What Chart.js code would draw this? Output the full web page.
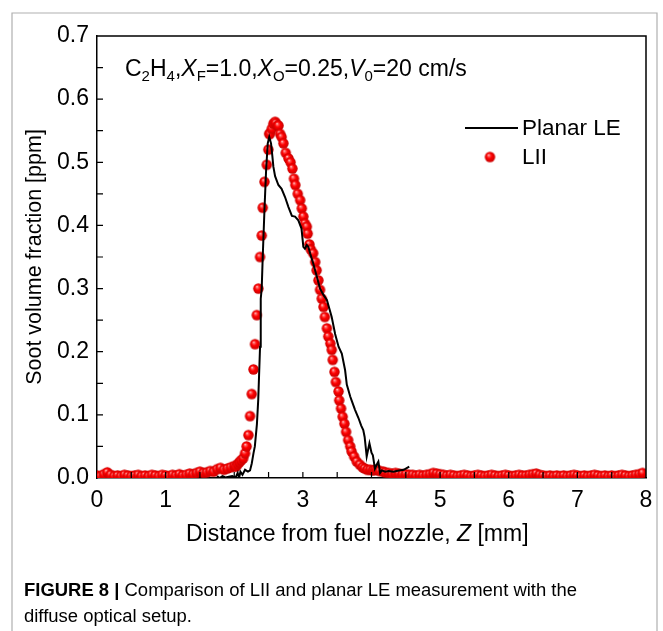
<!DOCTYPE html>
<html><head><meta charset="utf-8">
<script src="https://cdn.jsdelivr.net/npm/chart.js@4.4.1/dist/chart.umd.min.js"></script>
<style>html,body{margin:0;padding:0;background:#fff}#wrap{position:relative;width:663px;height:631px}</style>
</head><body><div id="wrap"><canvas id="c" width="663" height="631"></canvas></div>
<script>
// ---- tick labels ----
const xTickValues = [0, 1, 2, 3, 4, 5, 6, 7, 8];
const yTickLabels = ['0.0', '0.1', '0.2', '0.3', '0.4', '0.5', '0.6', '0.7'];

// ---- Planar LE (black line) ----
const leZ = [1.75, 1.78, 1.80, 1.83, 1.87, 1.92, 1.97, 2.02, 2.05, 2.07, 2.09, 2.12, 2.157, 2.20, 2.23, 2.255, 2.28, 2.30, 2.33, 2.35, 2.376, 2.386, 2.40, 2.415, 2.44, 2.464, 2.488, 2.51, 2.536, 2.555, 2.57, 2.595, 2.643, 2.69, 2.74, 2.79, 2.84, 2.886, 2.934, 2.98, 3.007, 3.03, 3.057, 3.08, 3.105, 3.15, 3.178, 3.25, 3.30, 3.35, 3.42, 3.47, 3.52, 3.567, 3.615, 3.64, 3.69, 3.71, 3.76, 3.81, 3.85, 3.88, 3.90, 3.93, 3.97, 4.00, 4.02, 4.05, 4.085, 4.10, 4.125, 4.15, 4.20, 4.25, 4.32, 4.40, 4.47, 4.55];
const leF = [0.003, 0.000, 0.001, 0.003, 0.001, 0.002, 0.003, 0.001, 0.008, 0.000, 0.010, 0.005, 0.013, 0.010, 0.012, 0.023, 0.039, 0.050, 0.085, 0.125, 0.208, 0.284, 0.300, 0.350, 0.424, 0.487, 0.530, 0.540, 0.530, 0.510, 0.493, 0.478, 0.464, 0.458, 0.445, 0.429, 0.415, 0.414, 0.408, 0.395, 0.366, 0.363, 0.369, 0.366, 0.356, 0.340, 0.329, 0.300, 0.290, 0.282, 0.255, 0.228, 0.208, 0.197, 0.171, 0.148, 0.129, 0.123, 0.108, 0.095, 0.083, 0.076, 0.065, 0.034, 0.055, 0.040, 0.036, 0.015, 0.023, 0.026, 0.008, 0.012, 0.010, 0.011, 0.010, 0.012, 0.013, 0.018];

// ---- LII (red spheres) ----
const liiZ = [0.00, 0.05, 0.10, 0.15, 0.20, 0.25, 0.30, 0.35, 0.40, 0.45, 0.50, 0.55, 0.60, 0.65, 0.70, 0.75, 0.80, 0.85, 0.90, 0.95,
  1.00, 1.05, 1.10, 1.15, 1.20, 1.25, 1.30, 1.35, 1.40, 1.45, 1.50, 1.55, 1.60, 1.65, 1.70, 1.75, 1.80, 1.85, 1.90, 1.95,
  2.00, 2.025, 2.05, 2.075, 2.10, 2.13, 2.157, 2.18, 2.206, 2.23, 2.255, 2.28, 2.303, 2.328, 2.351, 2.376, 2.40, 2.415, 2.44, 2.474,
  2.497, 2.51, 2.52, 2.546, 2.57, 2.595, 2.605, 2.634, 2.643, 2.668, 2.69, 2.716, 2.75, 2.79, 2.82, 2.847, 2.87, 2.89, 2.925, 2.96,
  2.984, 3.007, 3.03, 3.057, 3.07, 3.095, 3.115, 3.15, 3.18, 3.20, 3.226, 3.25, 3.275, 3.30, 3.32, 3.35, 3.37, 3.40, 3.42, 3.435,
  3.46, 3.48, 3.52, 3.53, 3.556, 3.58, 3.605, 3.63, 3.66, 3.69, 3.71, 3.746, 3.785, 3.83, 3.87, 3.90, 3.94, 3.98, 4.02, 4.05,
  4.08, 4.12, 4.17, 4.20, 4.25, 4.30, 4.35, 4.40, 4.45, 4.50, 4.55, 4.60, 4.65, 4.70, 4.75, 4.80, 4.85, 4.90, 4.95, 5.00,
  5.05, 5.10, 5.15, 5.20, 5.25, 5.30, 5.35, 5.40, 5.45, 5.50, 5.55, 5.60, 5.65, 5.70, 5.75, 5.80, 5.85, 5.90, 5.95, 6.00,
  6.05, 6.10, 6.15, 6.20, 6.25, 6.30, 6.35, 6.40, 6.45, 6.50, 6.55, 6.60, 6.65, 6.70, 6.75, 6.80, 6.85, 6.90, 6.95, 7.00,
  7.05, 7.10, 7.15, 7.20, 7.25, 7.30, 7.35, 7.40, 7.45, 7.50, 7.55, 7.60, 7.65, 7.70, 7.75, 7.80, 7.85, 7.90, 7.95];
const liiF = [0.004, 0.003, 0.006, 0.009, 0.005, 0.003, 0.004, 0.003, 0.005, 0.004, 0.003, 0.004, 0.005, 0.003, 0.004, 0.003, 0.005, 0.004, 0.003, 0.005,
  0.004, 0.003, 0.005, 0.004, 0.006, 0.004, 0.005, 0.007, 0.006, 0.008, 0.010, 0.008, 0.009, 0.011, 0.010, 0.014, 0.016, 0.013, 0.015, 0.017,
  0.019, 0.018, 0.022, 0.025, 0.028, 0.031, 0.039, 0.050, 0.068, 0.098, 0.133, 0.172, 0.212, 0.258, 0.300, 0.350, 0.384, 0.428, 0.469, 0.496,
  0.520, 0.545, 0.545, 0.553, 0.561, 0.564, 0.562, 0.558, 0.558, 0.545, 0.540, 0.530, 0.515, 0.506, 0.500, 0.490, 0.474, 0.464, 0.450, 0.440,
  0.427, 0.414, 0.403, 0.398, 0.387, 0.370, 0.362, 0.356, 0.342, 0.329, 0.313, 0.298, 0.284, 0.271, 0.255, 0.237, 0.224, 0.213, 0.203, 0.187,
  0.168, 0.152, 0.137, 0.123, 0.110, 0.097, 0.086, 0.073, 0.060, 0.050, 0.042, 0.034, 0.026, 0.021, 0.017, 0.015, 0.013, 0.013, 0.012, 0.013,
  0.013, 0.011, 0.010, 0.009, 0.008, 0.007, 0.008, 0.007, 0.006, 0.006, 0.005, 0.005, 0.004, 0.005, 0.004, 0.005, 0.006, 0.008, 0.007, 0.006,
  0.005, 0.004, 0.005, 0.004, 0.003, 0.004, 0.005, 0.004, 0.003, 0.004, 0.005, 0.004, 0.003, 0.004, 0.005, 0.004, 0.003, 0.004, 0.005, 0.004,
  0.003, 0.004, 0.005, 0.004, 0.004, 0.005, 0.006, 0.007, 0.005, 0.004, 0.003, 0.004, 0.003, 0.004, 0.003, 0.004, 0.003, 0.004, 0.005, 0.004,
  0.003, 0.004, 0.003, 0.004, 0.005, 0.004, 0.003, 0.004, 0.003, 0.004, 0.003, 0.004, 0.005, 0.004, 0.003, 0.004, 0.005, 0.006, 0.008];

const FONT = "'Liberation Sans', Arial, sans-serif";

function makeSphere(r) {
  const s = Math.ceil(2 * r + 2);
  const cv = document.createElement('canvas');
  cv.width = s; cv.height = s;
  const g = cv.getContext('2d');
  const c = s / 2;
  const grad = g.createRadialGradient(c - r * 0.3, c - r * 0.4, 0, c, c, r);
  grad.addColorStop(0, '#fff0f0');
  grad.addColorStop(0.2, '#ff6060');
  grad.addColorStop(0.5, '#ff0000');
  grad.addColorStop(1, '#c80000');
  g.fillStyle = grad;
  g.beginPath(); g.arc(c, c, r, 0, Math.PI * 2); g.fill();
  return cv;
}
const sphere = makeSphere(5.2);

function drawRich(ctx, x, y, segs) {
  let cx = x;
  for (const s of segs) {
    let size = 23, dy = 0, style = '';
    if (s.k === 'sub') { size = 15; dy = 5; }
    if (s.k === 'i') style = 'italic ';
    ctx.font = style + size + 'px ' + FONT;
    ctx.fillText(s.t, cx, y + dy);
    cx += ctx.measureText(s.t).width;
  }
  return cx;
}

const decor = {
  id: 'decor',
  beforeDraw(chart) {
    const ctx = chart.ctx;
    ctx.save();
    ctx.fillStyle = '#fff';
    ctx.fillRect(0, 0, chart.width, chart.height);
    ctx.strokeStyle = '#b0b0b0';
    ctx.lineWidth = 1.2;
    ctx.beginPath();
    ctx.moveTo(12, 640); ctx.lineTo(12, 13); ctx.lineTo(657, 13); ctx.lineTo(657, 640);
    ctx.stroke();
    ctx.restore();
  },
  afterDraw(chart) {
    const ctx = chart.ctx;
    const a = chart.chartArea;
    const xs = chart.scales.x, ys = chart.scales.y;
    ctx.save();
    ctx.strokeStyle = '#000';
    ctx.lineWidth = 1.5;
    ctx.beginPath();
    ctx.moveTo(a.left, a.top); ctx.lineTo(a.right, a.top); ctx.lineTo(a.right, a.bottom);
    ctx.stroke();
    // inward ticks
    ctx.lineWidth = 1.2;
    ctx.beginPath();
    for (let i = 1; i < 16; i++) {
      const px = xs.getPixelForValue(i * 0.5);
      ctx.moveTo(px, a.bottom); ctx.lineTo(px, a.bottom - 6);
    }
    for (let i = 1; i < 14; i++) {
      const py = ys.getPixelForValue(i * 0.05);
      ctx.moveTo(a.left, py); ctx.lineTo(a.left + 6, py);
    }
    ctx.stroke();

    // annotation
    ctx.fillStyle = '#000';
    ctx.textBaseline = 'alphabetic';
    ctx.textAlign = 'left';
    drawRich(ctx, 125, 76, [
      {t: 'C'}, {t: '2', k: 'sub'}, {t: 'H'}, {t: '4', k: 'sub'}, {t: ','},
      {t: 'X', k: 'i'}, {t: 'F', k: 'sub'}, {t: '=1.0,'},
      {t: 'X', k: 'i'}, {t: 'O', k: 'sub'}, {t: '=0.25,'},
      {t: 'V', k: 'i'}, {t: '0', k: 'sub'}, {t: '=20 cm/s'}
    ]);

    // legend
    ctx.strokeStyle = '#000';
    ctx.lineWidth = 2;
    ctx.beginPath(); ctx.moveTo(465, 128); ctx.lineTo(518, 128); ctx.stroke();
    ctx.drawImage(sphere, 490 - sphere.width / 2, 157 - sphere.height / 2);
    ctx.font = '22.5px ' + FONT;
    ctx.textBaseline = 'middle';
    ctx.fillText(chart.data.datasets[0].label, 522, 129);
    ctx.fillText(chart.data.datasets[1].label, 522, 158);

    // x-axis title
    ctx.textBaseline = 'alphabetic';
    let cx = 186;
    const base = 541;
    ctx.font = '23px ' + FONT;
    ctx.fillText('Distance from fuel nozzle, ', cx, base);
    cx += ctx.measureText('Distance from fuel nozzle, ').width;
    ctx.font = 'italic 23px ' + FONT;
    ctx.fillText('Z', cx, base);
    cx += ctx.measureText('Z').width;
    ctx.font = '23px ' + FONT;
    ctx.fillText(' [mm]', cx, base);

    // caption
    const l1b = 'FIGURE 8 |', l1 = ' Comparison of LII and planar LE measurement with the';
    const cs = 17.5;
    ctx.font = 'bold ' + cs + 'px ' + FONT;
    const wb = ctx.measureText(l1b).width;
    ctx.font = cs + 'px ' + FONT;
    const wr = ctx.measureText(l1).width;
    const sc = 553 / (wb + wr);
    ctx.save();
    ctx.translate(24, 0);
    ctx.scale(sc, 1);
    ctx.font = 'bold ' + cs + 'px ' + FONT;
    ctx.fillText(l1b, 0, 596);
    ctx.font = cs + 'px ' + FONT;
    ctx.fillText(l1, wb, 596);
    ctx.fillText('diffuse optical setup.', 0, 622);
    ctx.restore();
    ctx.restore();
  }
};

const lePts = leZ.map((z, i) => ({x: z, y: leF[i]}));
const liiPts = liiZ.map((z, i) => ({x: z, y: liiF[i]}));

new Chart(document.getElementById('c'), {
  type: 'line',
  data: {
    datasets: [
      {label: 'Planar LE', data: lePts, borderColor: '#000', borderWidth: 2, pointRadius: 0, tension: 0, fill: false, order: 0},
      {label: 'LII', data: liiPts, showLine: false, pointStyle: sphere, pointRadius: 5.2, borderColor: '#f00', backgroundColor: '#f00', order: 1}
    ]
  },
  options: {
    responsive: false,
    devicePixelRatio: 1,
    animation: false,
    events: [],
    layout: {padding: {left: 0, top: 36, right: 17, bottom: 81}},
    plugins: {legend: {display: false}, tooltip: {enabled: false}},
    scales: {
      x: {
        type: 'linear', min: 0, max: 8,
        afterFit(s) { s.height = 72; },
        grid: {display: false, drawTicks: false},
        border: {display: true, color: '#000', width: 1.5},
        ticks: {stepSize: 1, padding: 9, color: '#000', font: {family: FONT, size: 23},
          callback: (v) => xTickValues.includes(v) ? String(v) : ''},
        title: {display: false}
      },
      y: {
        min: 0, max: 0.7,
        afterFit(s) { s.width = 97; },
        grid: {display: false, drawTicks: false},
        border: {display: true, color: '#000', width: 1.5},
        ticks: {stepSize: 0.1, padding: 8, color: '#000', font: {family: FONT, size: 23},
          callback: (v, i) => yTickLabels[i]},
        title: {display: true, text: 'Soot volume fraction [ppm]', color: '#000',
          font: {family: FONT, size: 21.5}, padding: {top: 22, bottom: 0}}
      }
    }
  },
  plugins: [decor]
});
</script>
</body></html>
